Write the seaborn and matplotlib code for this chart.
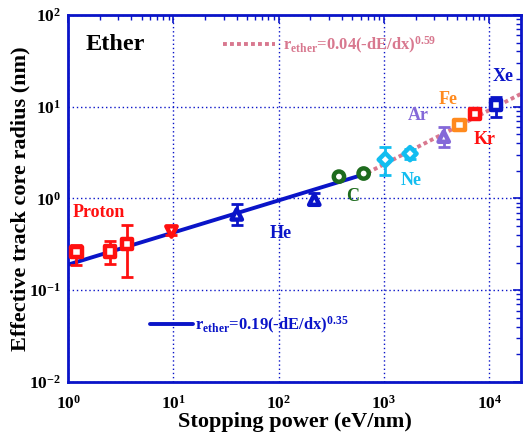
import numpy as np
import pandas as pd
import matplotlib
matplotlib.use("Agg")
import matplotlib.pyplot as plt
from matplotlib.lines import Line2D
import seaborn as sns

# ---------------- data ----------------
species = ["Proton", "Proton", "Proton", "Proton", "He", "He", "C", "C",
           "Ne", "Ne", "Ar", "Fe", "Kr", "Xe"]
stopping = [1.2, 2.5, 3.6, 9.5, 40, 218, 374, 642, 1030, 1770, 3700, 5230, 7390, 11600]
radius = [0.26, 0.265, 0.32, 0.44, 0.67, 0.97, 1.73, 1.87, 2.65, 3.08, 4.72, 6.37, 8.4, 10.5]
err_lo = [0.07, 0.07, 0.18, 0.04, 0.15, 0.11, 0.0, 0.0, 0.83, 0.4, 1.1, 0.7, 0.8, 2.7]
err_hi = [0.05, 0.075, 0.19, 0.05, 0.19, 0.19, 0.0, 0.0, 1.0, 0.4, 1.3, 0.7, 0.8, 2.3]
markers_by_point = ["s", "s", "s", "v", "^", "^", "o", "o", "D", "D", "^", "s", "s", "s"]

label_names = ["Proton", "He", "C", "Ne", "Ar", "Fe", "Kr", "Xe"]
label_x = [1.95, 104, 505, 1810, 2110, 4120, 9140, 13500]
label_y = [0.70, 0.41, 1.05, 1.57, 7.98, 11.9, 4.38, 21.1]

palette = {"Proton": "#ff1010", "He": "#0a14c8", "C": "#1d6b1d", "Ne": "#12bdf0",
           "Ar": "#8468d8", "Fe": "#ff8a1e", "Kr": "#ff1010", "Xe": "#0a14c8"}

# fits r = a * S^b
fit_a = [0.19, 0.04]
fit_b = [0.35, 0.59]
fit_xmin = [1.0, 700.0]
fit_xmax = [700.0, 2.0e4]

df = pd.DataFrame({"species": species, "S": stopping, "r": radius,
                   "lo": err_lo, "hi": err_hi, "m": markers_by_point})

# ---------------- style ----------------
sns.set_theme(style="white")
plt.rcParams["font.family"] = ["Liberation Serif", "DejaVu Serif"]
plt.rcParams["font.weight"] = "bold"
plt.rcParams["mathtext.fontset"] = "custom"
plt.rcParams["mathtext.rm"] = "Liberation Serif:bold"
plt.rcParams["mathtext.bf"] = "Liberation Serif:bold"
plt.rcParams["mathtext.it"] = "Liberation Serif:bold"

fig = plt.figure(figsize=(5.24, 4.41), dpi=100)
ax = fig.add_axes([0.13, 0.134, 0.864, 0.832])

blue = "#0a14c8"
pink = "#d8788f"

# fit lines
for i, (a, b, x0, x1) in enumerate(zip(fit_a, fit_b, fit_xmin, fit_xmax)):
    xs = np.array([x0, x1])
    ys = a * xs ** b
    fdf = pd.DataFrame({"x": xs, "y": ys})
    if i == 0:
        sns.lineplot(data=fdf, x="x", y="y", ax=ax, color=blue, lw=2.8, zorder=2)
    else:
        sns.lineplot(data=fdf, x="x", y="y", ax=ax, color=pink, lw=2.8,
                     linestyle=(0, (1.0, 0.8)), zorder=2)

# error bars
for _, row in df.iterrows():
    if row.lo > 0 or row.hi > 0:
        ax.errorbar(row.S, row.r, yerr=[[row.lo], [row.hi]], fmt="none",
                    ecolor=palette[row.species], elinewidth=2.0, capsize=4,
                    capthick=2.0, zorder=3)

# markers
for m in df.m.unique():
    sub = df[df.m == m]
    size = 45 if m == "D" else 55
    sns.scatterplot(data=sub, x="S", y="r", hue="species", palette=palette,
                    marker=m, s=size, linewidth=3.2,
                    ax=ax, legend=False, zorder=4)
# hollow markers with coloured thick edges
for coll in ax.collections:
    fc = coll.get_facecolors()
    if len(fc):
        coll.set_edgecolors(fc)
        coll.set_facecolors("white")

ax.set_xscale("log")
ax.set_yscale("log")
ax.set_xlim(1, 2e4)
ax.set_ylim(1e-2, 1e2)

# labels
for name, lx, ly in zip(label_names, label_x, label_y):
    ax.text(lx, ly, name, color=palette[name], fontsize=13, fontweight="bold",
            ha="center", va="center")
ax.text(0.038, 0.92, "Ether", transform=ax.transAxes, fontsize=17.5,
        fontweight="bold", color="black", ha="left", va="center")

# fit legends
h1 = Line2D([], [], color=blue, lw=2.8)
leg1 = ax.legend([h1], [r"r$_{\mathbf{ether}}$=0.19(-dE/dx)$^{\mathbf{0.35}}$"],
                 loc="center left", bbox_to_anchor=(0.147, 0.155), frameon=False,
                 handlelength=2.6, handletextpad=0.1, fontsize=12,
                 labelcolor=blue)
ax.add_artist(leg1)
h2 = Line2D([], [], color=pink, lw=2.8, linestyle=(0, (1.0, 0.8)))
ax.legend([h2], [r"r$_{\mathbf{ether}}$=0.04(-dE/dx)$^{\mathbf{0.59}}$"],
          loc="center left", bbox_to_anchor=(0.31, 0.918), frameon=False,
          handlelength=3.1, handletextpad=0.5, fontsize=12, labelcolor=pink)

# axes styling
for sp in ax.spines.values():
    sp.set_color(blue)
    sp.set_linewidth(2)
ax.grid(True, which="major", color=blue, linestyle=(0, (1, 2)), lw=1)
ax.tick_params(which="both", direction="in", top=True, right=True,
               color=blue, labelcolor="black", labelsize=12.5)
ax.tick_params(which="major", length=6, width=1.2)
ax.tick_params(axis="x", which="major", pad=9)
ax.tick_params(axis="y", which="major", pad=5)
ax.tick_params(which="minor", length=3.5, width=1)
ax.xaxis.set_minor_locator(matplotlib.ticker.LogLocator(base=10, subs=np.arange(2, 10)))
ax.yaxis.set_minor_locator(matplotlib.ticker.LogLocator(base=10, subs=np.arange(2, 10)))
for lab in ax.get_xticklabels() + ax.get_yticklabels():
    lab.set_fontweight("bold")

ax.set_xlabel("Stopping power (eV/nm)", fontsize=16, fontweight="bold",
              color="black", labelpad=0)
ax.set_ylabel("Effective track core radius (nm)", fontsize=16,
              fontweight="bold", color="black", labelpad=-1)

fig.savefig("out.png", dpi=100)
